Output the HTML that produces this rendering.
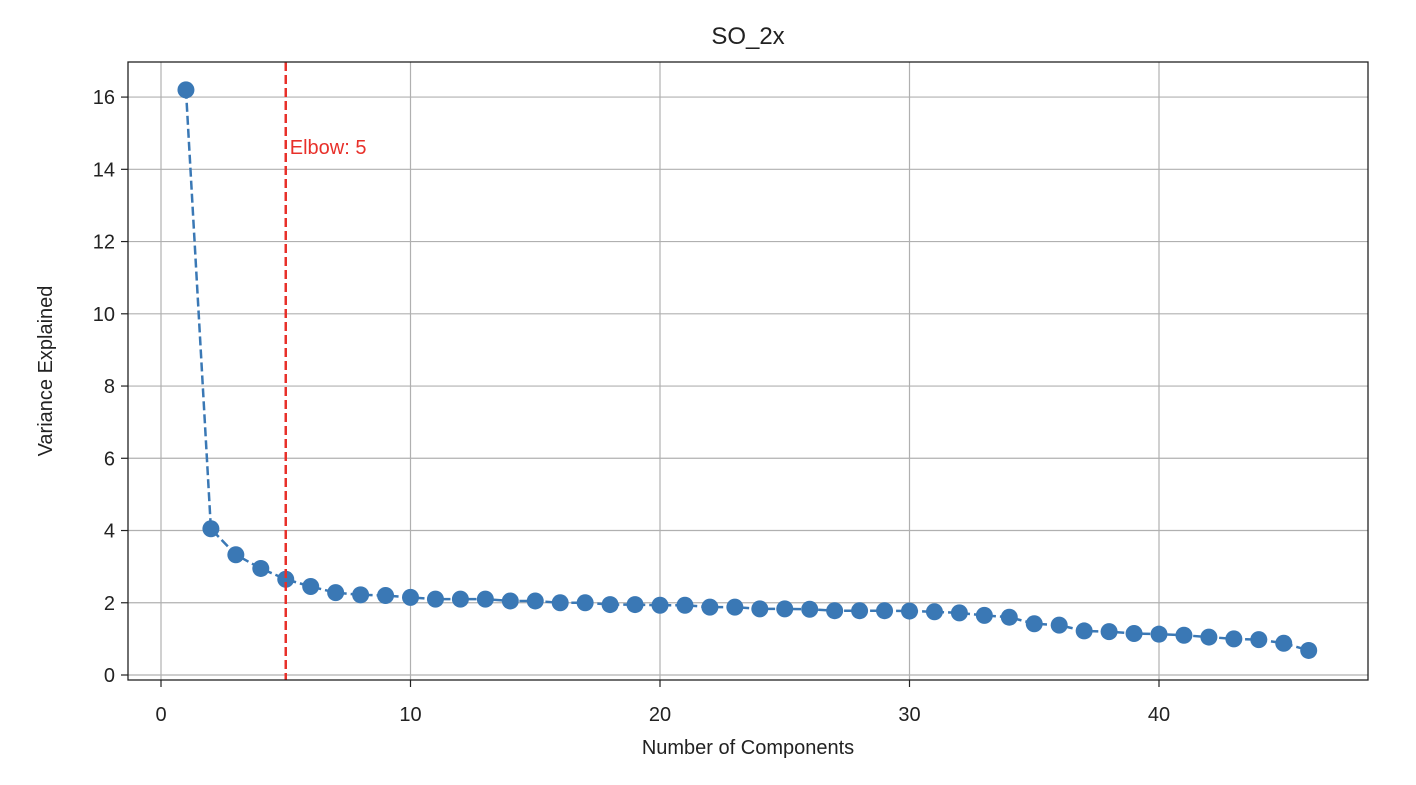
<!DOCTYPE html>
<html><head><meta charset="utf-8"><style>
body{margin:0;background:#fff;}
svg text{font-family:"Liberation Sans","DejaVu Sans",sans-serif;fill:#222;}
</style></head><body>
<svg id="chart" width="1416" height="780" viewBox="0 0 1416 780">
<rect width="1416" height="780" fill="#fff"/>
<g id="grid"></g><g id="series"></g><g id="axes"></g>
</svg>
<script>
const components=[1,2,3,4,5,6,7,8,9,10,11,12,13,14,15,16,17,18,19,20,21,22,23,24,25,26,27,28,29,30,31,32,33,34,35,36,37,38,39,40,41,42,43,44,45,46];
const variance=[16.2,4.05,3.33,2.95,2.65,2.45,2.28,2.22,2.2,2.15,2.1,2.1,2.1,2.05,2.05,2.0,2.0,1.95,1.95,1.93,1.93,1.88,1.88,1.83,1.83,1.82,1.78,1.78,1.78,1.77,1.75,1.72,1.65,1.6,1.42,1.38,1.22,1.2,1.15,1.13,1.1,1.05,1.0,0.98,0.88,0.68];
const xTicks=[0,10,20,30,40];
const yTicks=[0,2,4,6,8,10,12,14,16];
const elbow=5;
const L=128,R=1368,T=62,B=680;
const x=v=>161+(v)*24.95;
const y=v=>675-v*36.12;
const NS="http://www.w3.org/2000/svg";
function mk(parent,tag,attrs,text){const e=document.createElementNS(NS,tag);for(const k in attrs)e.setAttribute(k,attrs[k]);if(text!==undefined)e.textContent=text;document.getElementById(parent).appendChild(e);return e;}
xTicks.forEach(t=>{
 let g=mk('grid','line',{x1:x(t),x2:x(t),y1:T,y2:B,stroke:'#b0b0b0','stroke-width':1.2});
 
 
 mk('axes','line',{x1:x(t),x2:x(t),y1:B,y2:B+7,stroke:'#222','stroke-width':1.2});
 let l=mk('axes','text',{x:x(t),y:B+41,'text-anchor':'middle','font-size':20},t);
 
 
});
yTicks.forEach(t=>{
 let g=mk('grid','line',{x1:L,x2:R,y1:y(t),y2:y(t),stroke:'#b0b0b0','stroke-width':1.2});
 
 
 mk('axes','line',{x1:L-7,x2:L,y1:y(t),y2:y(t),stroke:'#222','stroke-width':1.2});
 let l=mk('axes','text',{x:L-13,y:y(t)+7,'text-anchor':'end','font-size':20},t);
 
 
});
let pts=components.map((c,i)=>x(c)+','+y(variance[i])).join(' ');
let line=mk('series','polyline',{points:pts,fill:'none',stroke:'#3a78b5','stroke-width':2.5,'stroke-dasharray':'9,4'});


components.forEach((c,i)=>{
 let p=mk('series','circle',{cx:x(c),cy:y(variance[i]),r:8.5,fill:'#3a78b5'});
 
 
});
let el=mk('series','line',{x1:x(elbow),x2:x(elbow),y1:T,y2:B,stroke:'#e8302a','stroke-width':2.5,'stroke-dasharray':'9,4'});


let et=mk('series','text',{x:x(elbow)+4,y:y(14.4)-1,'font-size':20,style:'fill:#e8302a'},'Elbow: '+elbow);


let fr=mk('axes','rect',{x:L,y:T,width:R-L,height:B-T,fill:'none',stroke:'#222','stroke-width':1.3});


let ti=mk('axes','text',{x:748,y:44,'text-anchor':'middle','font-size':24},'SO_2x');


let xl=mk('axes','text',{x:748,y:754,'text-anchor':'middle','font-size':20},'Number of Components');


let yl=mk('axes','text',{x:0,y:0,'text-anchor':'middle','font-size':20,transform:'translate(52,371) rotate(-90)'},'Variance Explained');


</script>
</body></html>
